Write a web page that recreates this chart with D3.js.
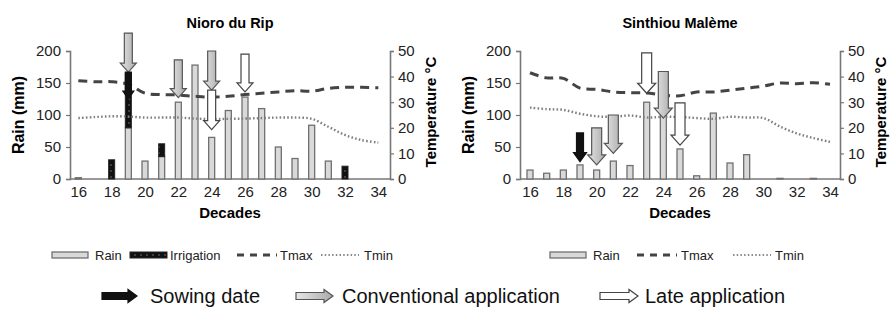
<!DOCTYPE html>
<html>
<head>
<meta charset="utf-8">
<script src="https://cdn.jsdelivr.net/npm/d3@7"></script>
<style>
  body { margin: 0; background: #fff; }
  text { font-family: "Liberation Sans", Arial, sans-serif; }
</style>
</head>
<body>
<svg id="chart" width="890" height="321"></svg>
<script>
// decades 16..34
const decades = d3.range(16, 35);
const xTicks = [16, 18, 20, 22, 24, 26, 28, 30, 32, 34];
const rainTicks = [0, 50, 100, 150, 200];
const tempTicks = [0, 10, 20, 30, 40, 50];

// Nioro du Rip
const nioroRain = [2, 0, 0, 80, 28, 35, 120, 178, 65, 107, 128, 110, 50, 32, 84, 28, 0, 0, 0];
const nioroIrrig = [0, 0, 30, 85, 0, 20, 0, 0, 0, 0, 0, 0, 0, 0, 0, 0, 20, 0, 0];
const nioroTmax = [38.4, 38, 38, 37, 33.5, 33, 32.8, 32.3, 32, 32.3, 33, 33.5, 34, 34.5, 34.3, 35.4, 35.8, 35.8, 35.6];
const nioroTmin = [23.8, 24.2, 24.5, 24.4, 24, 24, 24, 23.6, 23.4, 23.5, 23.6, 23.8, 24, 24, 23.5, 20.4, 17.2, 15.2, 14.2];
// arrows: decade, kind, top (mm), tip (mm)
const nioroArrows = [
  [19, 'conv', 228, 167],
  [19, 'sow', 167, 125],
  [22, 'conv', 186, 127],
  [24, 'conv', 200, 139],
  [24, 'late', 139, 77],
  [26, 'late', 195, 136]
];

// Sinthiou Malème
const sinthiouRain = [14, 9, 14, 22, 14, 28, 21, 120, 100, 47, 5, 103, 25, 38, 0, 1, 0, 1, 0];
const sinthiouTmax = [41.5, 39.5, 39.3, 35.5, 35, 34, 33.7, 33.6, 32.8, 32.5, 34, 34, 34.7, 35.5, 36.3, 37.5, 37.2, 37.6, 37];
const sinthiouTmin = [27.9, 27.3, 27, 25.5, 24.5, 24.3, 24.8, 24, 24.3, 24.2, 23.8, 23.5, 24.3, 24, 23.8, 20.5, 17.8, 16, 14.5];
const sinthiouArrows = [
  [19, 'sow', 72, 27],
  [20, 'conv', 80, 22],
  [21, 'conv', 100, 40],
  [23, 'late', 197, 134],
  [24, 'conv', 168, 95],
  [25, 'late', 119, 53]
];

const svg = d3.select('#chart');
const defs = svg.append('defs');

const grad = defs.append('linearGradient').attr('id', 'convGrad')
  .attr('x1', '0%').attr('x2', '100%').attr('y1', '0%').attr('y2', '0%');
grad.append('stop').attr('offset', '0%').attr('stop-color', '#e6e6e6');
grad.append('stop').attr('offset', '100%').attr('stop-color', '#a9a9a9');

const irrPat = defs.append('pattern').attr('id', 'irrPat')
  .attr('width', 6).attr('height', 6).attr('patternUnits', 'userSpaceOnUse');
irrPat.append('rect').attr('width', 6).attr('height', 6).attr('fill', '#111');
irrPat.append('circle').attr('cx', 3).attr('cy', 3).attr('r', 0.9).attr('fill', '#555');

const fill = { sow: '#111', conv: 'url(#convGrad)', late: '#fff' };
const stroke = { sow: '#111', conv: '#555', late: '#444' };

function downArrow(cx, y0, y1, sw, hw, hl) {
  return `M${cx - sw},${y0}L${cx + sw},${y0}L${cx + sw},${y1 - hl}L${cx + hw},${y1 - hl}` +
    `L${cx},${y1}L${cx - hw},${y1 - hl}L${cx - sw},${y1 - hl}Z`;
}
function rightArrow(x0, x1, cy, sw, hw, hl) {
  return `M${x0},${cy - sw}L${x1 - hl},${cy - sw}L${x1 - hl},${cy - hw}L${x1},${cy}` +
    `L${x1 - hl},${cy + hw}L${x1 - hl},${cy + sw}L${x0},${cy + sw}Z`;
}

function panel(opt) {
  const g = svg.append('g');
  const x = d3.scaleLinear().domain(opt.xDomain).range([opt.left, opt.right]);
  const yR = d3.scaleLinear().domain([0, 200]).range([179, 51]);
  const yT = d3.scaleLinear().domain([0, 50]).range([179, 51]);
  const axisColor = '#777';

  // axes
  const ga = g.append('g').attr('transform', `translate(${opt.left},0)`)
    .call(d3.axisLeft(yR).tickValues(rainTicks).tickSize(4).tickPadding(5));
  const gr = g.append('g').attr('transform', `translate(${opt.right},0)`)
    .call(d3.axisRight(yT).tickValues(tempTicks).tickSize(4).tickPadding(4));
  const gb = g.append('g').attr('transform', 'translate(0,179)')
    .call(d3.axisBottom(x).tickValues(xTicks).tickSize(0).tickPadding(7));
  [ga, gr, gb].forEach(a => {
    a.select('.domain').attr('stroke', axisColor).attr('stroke-width', 1.6);
    a.selectAll('.tick line').attr('stroke', axisColor).attr('stroke-width', 1.2);
    a.selectAll('.tick text').attr('font-size', 15).attr('fill', '#222')
      .style('font-family', '"Liberation Sans", Arial, sans-serif');
  });
  gb.select('.domain').attr('d', `M${opt.left},0H${opt.right}`);

  // bars
  const bw = 6;
  const rows = decades.map((d, i) => ({ d, rain: opt.rain[i], irr: opt.irrig ? opt.irrig[i] : 0 }));
  g.append('g').selectAll('rect').data(rows.filter(r => r.rain > 0)).join('rect')
    .attr('x', r => x(r.d) - bw / 2).attr('width', bw)
    .attr('y', r => yR(r.rain)).attr('height', r => yR(0) - yR(r.rain))
    .attr('fill', '#d9d9d9').attr('stroke', '#707070').attr('stroke-width', 1.3);
  g.append('g').selectAll('rect').data(rows.filter(r => r.irr > 0)).join('rect')
    .attr('x', r => x(r.d) - bw / 2).attr('width', bw)
    .attr('y', r => yR(r.rain + r.irr)).attr('height', r => yR(r.rain) - yR(r.rain + r.irr))
    .attr('fill', 'url(#irrPat)').attr('stroke', '#222').attr('stroke-width', 1);

  // temperature lines
  const line = d3.line().x((v, i) => x(decades[i])).y(v => yT(v)).curve(d3.curveCatmullRom);
  g.append('path').attr('d', line(opt.tmin)).attr('fill', 'none')
    .attr('stroke', '#808080').attr('stroke-width', 2.4).attr('stroke-dasharray', '1.6,2.2');
  g.append('path').attr('d', line(opt.tmax)).attr('fill', 'none')
    .attr('stroke', '#444').attr('stroke-width', 3).attr('stroke-dasharray', '9,6');

  // arrows
  opt.arrows.forEach(([d, kind, top, tip]) => {
    const s = kind === 'sow' ? opt.sowSize : opt.arrowSize;
    g.append('path').attr('d', downArrow(x(d), yR(top), yR(tip), s[0], s[1], s[2]))
      .attr('fill', fill[kind]).attr('stroke', stroke[kind]).attr('stroke-width', 1.2);
  });

  // labels
  const mid = (opt.left + opt.right) / 2;
  g.append('text').attr('x', mid).attr('y', 28).attr('text-anchor', 'middle')
    .attr('font-size', 14.5).attr('font-weight', 'bold').text(opt.title);
  g.append('text').attr('x', mid).attr('y', 218).attr('text-anchor', 'middle')
    .attr('font-size', 15).attr('font-weight', 'bold').text('Decades');
  g.append('text').attr('transform', `translate(${opt.left - 46},115) rotate(-90)`)
    .attr('text-anchor', 'middle').attr('font-size', 16).attr('font-weight', 'bold').text('Rain (mm)');
  g.append('text').attr('transform', `translate(${opt.right + 46},112) rotate(-90)`)
    .attr('text-anchor', 'middle').attr('font-size', 15).attr('font-weight', 'bold').text('Temperature °C');
}

panel({
  title: 'Nioro du Rip', left: 70, right: 390, xDomain: [15.5, 34.7],
  rain: nioroRain, irrig: nioroIrrig, tmax: nioroTmax, tmin: nioroTmin,
  arrows: nioroArrows, arrowSize: [4, 8, 9], sowSize: [3, 5.5, 8]
});
panel({
  title: 'Sinthiou Malème', left: 520, right: 840, xDomain: [15.4, 34.6],
  rain: sinthiouRain, irrig: null, tmax: sinthiouTmax, tmin: sinthiouTmin,
  arrows: sinthiouArrows, arrowSize: [5, 9, 10], sowSize: [3.5, 6.5, 9]
});

// legend row 1
function legend(items, y) {
  const g = svg.append('g');
  items.forEach(([kind, x0, label, tx]) => {
    if (kind === 'rain') {
      g.append('rect').attr('x', x0).attr('y', y - 3).attr('width', 36).attr('height', 6)
        .attr('fill', '#d9d9d9').attr('stroke', '#707070').attr('stroke-width', 1.3);
    } else if (kind === 'irr') {
      g.append('rect').attr('x', x0).attr('y', y - 3).attr('width', 37).attr('height', 6)
        .attr('fill', 'url(#irrPat)').attr('stroke', '#222');
    } else if (kind === 'tmax') {
      g.append('line').attr('x1', x0).attr('x2', x0 + 40).attr('y1', y).attr('y2', y)
        .attr('stroke', '#444').attr('stroke-width', 3).attr('stroke-dasharray', '7,6');
    } else {
      g.append('line').attr('x1', x0).attr('x2', x0 + 38).attr('y1', y).attr('y2', y)
        .attr('stroke', '#8a8a8a').attr('stroke-width', 2).attr('stroke-dasharray', '1.5,2.2');
    }
    g.append('text').attr('x', tx).attr('y', y + 4.5).attr('font-size', 13).attr('fill', '#222').text(label);
  });
}
legend([['rain', 52, 'Rain', 95], ['irr', 130, 'Irrigation', 170], ['tmax', 237, 'Tmax', 280], ['tmin', 321, 'Tmin', 364]], 255);
legend([['rain', 550, 'Rain', 593], ['tmax', 637, 'Tmax', 681], ['tmin', 733, 'Tmin', 775]], 255);

// legend row 2 (arrow keys)
const keys = [['sow', 102, 137, 'Sowing date', 150], ['conv', 296, 333, 'Conventional application', 342], ['late', 600, 638, 'Late application', 645]];
const gk = svg.append('g');
keys.forEach(([kind, x0, x1, label, tx]) => {
  gk.append('path').attr('d', rightArrow(x0, x1, 296, 3.5, 6.5, 9))
    .attr('fill', fill[kind]).attr('stroke', stroke[kind]).attr('stroke-width', 1.2);
  gk.append('text').attr('x', tx).attr('y', 303).attr('font-size', 20).attr('fill', '#111').text(label);
});
</script>
</body>
</html>
